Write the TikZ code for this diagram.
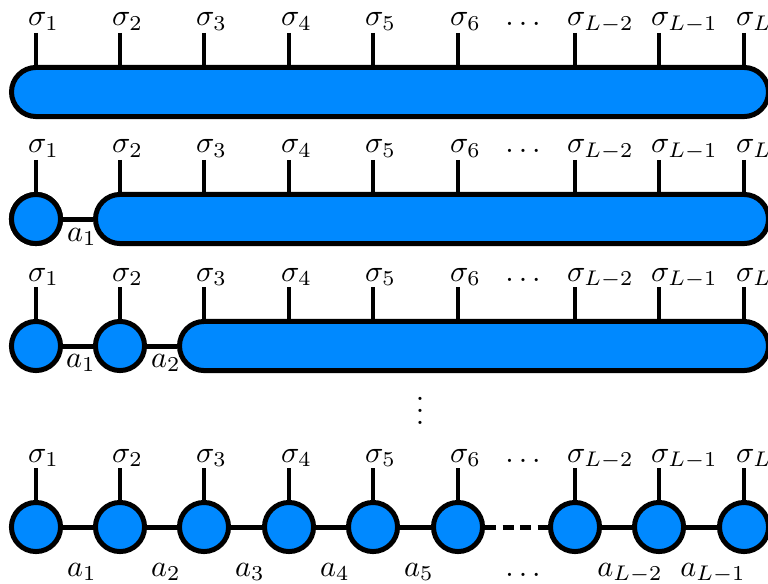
\documentclass[tikz,border=0pt]{standalone}
\usetikzlibrary{shapes.misc}
\definecolor{tnblue}{RGB}{0,137,255}
\begin{document}
\begin{tikzpicture}[x=0.33pt,y=-0.33pt,
  tensor/.style={circle,draw=black,fill=tnblue,line width=1.65pt,minimum size=16.2pt,inner sep=0pt},
  mps/.style={rounded rectangle,draw=black,fill=tnblue,line width=1.65pt,minimum height=16.2pt,inner sep=0pt},
  leg/.style={line width=1.5pt},
  bond/.style={line width=1.65pt},
  lbl/.style={anchor=base,inner sep=0pt},
  slbl/.style={anchor=base west,inner sep=0pt,xshift=-8.5*0.33pt}]
\useasboundingbox (0,0) rectangle (768,583);
\clip (0,0) rectangle (768,583);
% ---------- row 1 ----------
\node[mps,minimum width=757*0.33pt] (bar1) at (390,92) {};
\foreach \i/\x/\s in {1/36/1,2/120/2,3/204/3,4/289/4,5/373/5,6/458/6,7/575/{L-2},8/659/{L-1},9/744/L}{
  \coordinate (t1\i) at (\x,33);
  \draw[leg] (t1\i) -- (t1\i |- bar1.north);
  \node[slbl] (s1\i) at (\x,26) {$\sigma_{\s}$};
}
\node[lbl] (d1) at (523,26) {$\ldots$};
% ---------- row 2 ----------
\node[tensor] (c21) at (36,219) {};
\node[mps,minimum width=673*0.33pt] (bar2) at (432,219) {};
\draw[bond] (c21.east) -- (bar2.west);
\node[tensor] (c21) at (36,219) {};
\foreach \i/\x/\s in {1/36/1,2/120/2,3/204/3,4/289/4,5/373/5,6/458/6,7/575/{L-2},8/659/{L-1},9/744/L}{
  \coordinate (t2\i) at (\x,160);
  \draw[leg] (t2\i) -- ++(0,34.5);
  \node[slbl] (s2\i) at (\x,153) {$\sigma_{\s}$};
}
\node[lbl] (d2) at (523,153) {$\ldots$};
\node[lbl] (a21) at (82,241) {$a_1$};
% ---------- row 3 ----------
\node[tensor] (c31) at (36,346) {};
\node[tensor] (c32) at (120,346) {};
\node[mps,minimum width=589*0.33pt] (bar3) at (474,346) {};
\draw[bond] (c31) -- (c32);
\draw[bond] (c32.east) -- (bar3.west);
\foreach \i/\x/\s in {1/36/1,2/120/2,3/204/3,4/289/4,5/373/5,6/458/6,7/575/{L-2},8/659/{L-1},9/744/L}{
  \coordinate (t3\i) at (\x,287);
  \draw[leg] (t3\i) -- ++(0,34.5);
  \node[slbl] (s3\i) at (\x,281) {$\sigma_{\s}$};
}
\node[lbl] (d3) at (523,281) {$\ldots$};
\node[lbl] (a31) at (81,367) {$a_1$};
\node[lbl] (a32) at (166,367) {$a_2$};
% ---------- vertical dots ----------
\node (vd) at (420,402) {$\vdots$};
% ---------- row 4 ----------
\foreach \i/\x/\s in {1/36/1,2/120/2,3/204/3,4/289/4,5/373/5,6/458/6,7/575/{L-2},8/659/{L-1},9/744/L}{
  \node[tensor] (c4\i) at (\x,527) {};
  \coordinate (t4\i) at (\x,468);
  \draw[leg] (t4\i) -- (c4\i.north);
  \node[slbl] (s4\i) at (\x,462) {$\sigma_{\s}$};
}
\node[lbl] (d4) at (523,462) {$\ldots$};
\foreach \a/\b in {1/2,2/3,3/4,4/5,5/6,7/8,8/9}{
  \draw[bond] (c4\a) -- (c4\b);
}
\draw[bond,dash pattern=on 11*0.33pt off 6.5*0.33pt] (c46) -- (c47);
\foreach \x/\s/\k in {82/1/1,166/2/2,250/3/3,335/4/4,419/5/5,630/{L-2}/7,713/{L-1}/8}{
  \node[lbl] (a4\k) at (\x,576) {$a_{\s}$};
}
\node[lbl] (d5) at (523,576) {$\ldots$};
\end{tikzpicture}
\end{document}
